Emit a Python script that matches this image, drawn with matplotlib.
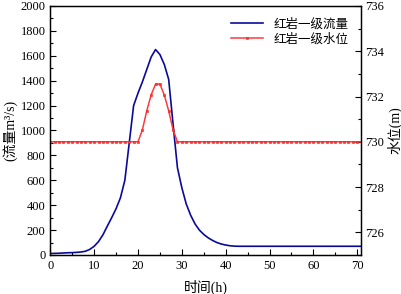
import numpy as np
import matplotlib
matplotlib.use('Agg')
import matplotlib.pyplot as plt
from matplotlib.ticker import MultipleLocator

plt.rcParams['font.family'] = ['Liberation Serif', 'Noto Sans CJK SC']

# hourly data
hours = np.arange(0, 72)
flow_head = [12, 13, 14, 16, 18, 19, 21, 24, 30, 45,
             70, 108, 162, 232, 300, 372, 460, 600, 900, 1200,
             1300, 1390, 1490, 1590, 1650, 1610, 1530, 1410, 1050, 700,
             540, 410, 320, 250, 200, 165, 138, 117, 100, 88,
             80, 74, 71]
flow = flow_head + [70] * (len(hours) - len(flow_head))
level_peak = [730.0, 730.53, 731.37, 732.07, 732.55, 732.55, 732.07, 731.37, 730.53, 730.0]
level = [730.0] * 20 + level_peak + [730.0] * (len(hours) - 30)

fig = plt.figure(figsize=(4.01, 2.94), dpi=100)
ax1 = fig.add_axes([0.1255, 0.1327, 0.774, 0.847])
ax2 = ax1.twinx()

l1, = ax1.plot(hours, flow, color='#0a0a9a', lw=1.2)
l2, = ax2.plot(hours, level, color='#ff3a3a', lw=1.1, marker='s', ms=2.1,
               mew=0.4, mec='#e82020')

ax1.set_xlim(0, 70.8)
ax1.set_ylim(0, 2000)
ax2.set_ylim(725, 736)

ax1.xaxis.set_major_locator(MultipleLocator(10))
ax1.xaxis.set_minor_locator(MultipleLocator(5))
ax1.yaxis.set_major_locator(MultipleLocator(200))
ax1.yaxis.set_minor_locator(MultipleLocator(100))
ax2.yaxis.set_major_locator(MultipleLocator(2))
ax2.yaxis.set_minor_locator(MultipleLocator(1))

for ax in (ax1, ax2):
    ax.tick_params(which='both', direction='in', labelsize=9, width=0.8)
    ax.tick_params(which='major', length=4)
    ax.tick_params(which='minor', length=2.5)
    for s in ax.spines.values():
        s.set_linewidth(0.9)
ax1.tick_params(axis='y', right=False)

ax1.set_xlabel('时间(h)', fontsize=10, labelpad=6)
ax1.set_ylabel('(流量m³/s)', fontsize=10, labelpad=2)
ax2.set_ylabel('水位(m)', fontsize=10, labelpad=2)

ax1.legend([l1, l2], ['红岩一级流量', '红岩一级水位'], loc='upper right',
           frameon=False, fontsize=9, handlelength=2.6, borderaxespad=0.6,
           labelspacing=0.2)

fig.savefig('out.png', dpi=100)
